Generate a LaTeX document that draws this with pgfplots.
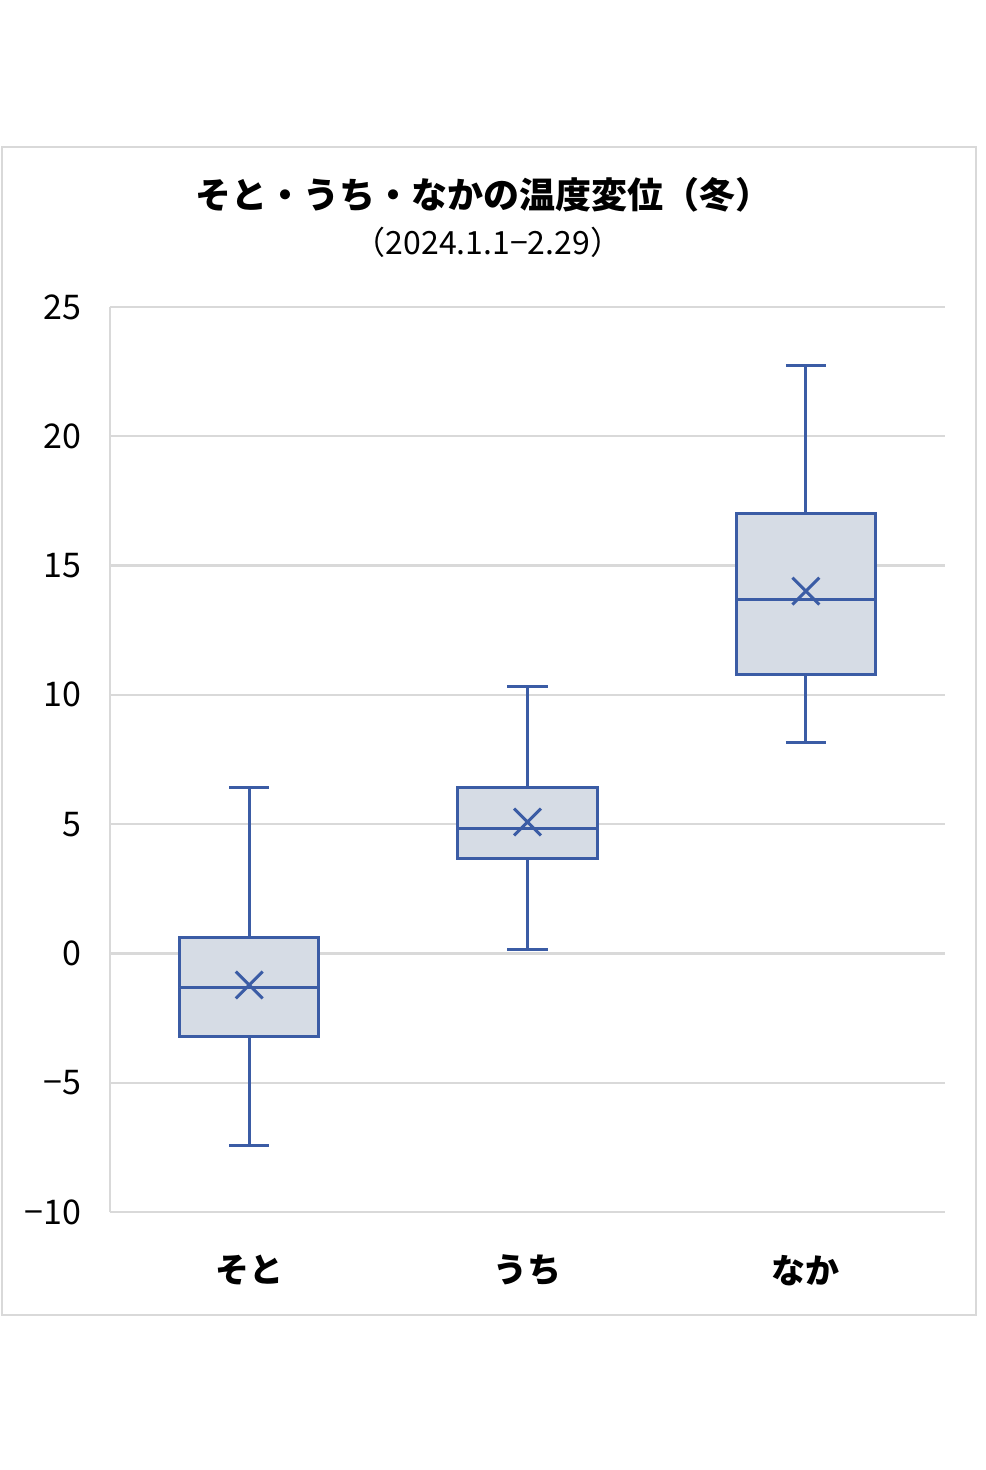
\documentclass[border=0pt]{standalone}
\usepackage{fontspec}
\setmainfont{Noto Sans CJK JP}
\usepackage{pgfplots}
\pgfplotsset{compat=1.18}
\usepgfplotslibrary{statistics}

\definecolor{gridgray}{HTML}{D9D9D9}
\definecolor{boxline}{HTML}{3B5CA5}
\definecolor{boxfill}{HTML}{D6DCE5}

\begin{document}
\begin{tikzpicture}
  % page: 1px = 0.5pt, origin at the top left
  \path (0,0) rectangle (492.5pt,-735pt);
  \draw[gridgray, line width=1.2pt] (1pt,-73.5pt) rectangle (488pt,-657.5pt);
  \node[font=\fontsize{18}{20}\selectfont\bfseries] at (241.5pt,-97.5pt) {そと・うち・なかの温度変位（冬）};
  \node[font=\fontsize{16}{18}\selectfont] at (244pt,-121pt) {（2024.1.1−2.29）};

  \begin{axis}[
    at={(55pt,-606pt)}, anchor=south west,
    scale only axis, width=417.5pt, height=452.5pt,
    xmin=0.5, xmax=3.5, ymin=-10, ymax=25,
    xtick={1,2,3}, xticklabels={そと,うち,なか},
    ytick={-10,-5,0,5,10,15,20,25},
    yticklabels={−10,−5,0,5,10,15,20,25},
    major tick length=0pt,
    ymajorgrids,
    grid style={gridgray, line width=1.2pt},
    axis x line*=bottom, axis y line*=left,
    axis line style={gridgray, line width=1.2pt},
    xticklabel style={font=\fontsize{17}{19}\selectfont\bfseries, yshift=-18pt},
    yticklabel style={font=\fontsize{17}{19}\selectfont, xshift=-11pt},
    boxplot/draw direction=y,
    boxplot/box extend=0.5,
    boxplot/whisker extend=0.144,
  ]
    \addplot[boxplot prepared={draw position=1, lower whisker=-7.41, lower quartile=-3.23,
      median=-1.30, upper quartile=0.63, upper whisker=6.40},
      draw=boxline, fill=boxfill, line width=1.5pt] coordinates {};
    \addplot[boxplot prepared={draw position=2, lower whisker=0.17, lower quartile=3.69,
      median=4.85, upper quartile=6.40, upper whisker=10.34},
      draw=boxline, fill=boxfill, line width=1.5pt] coordinates {};
    \addplot[boxplot prepared={draw position=3, lower whisker=8.17, lower quartile=10.80,
      median=13.70, upper quartile=17.03, upper whisker=22.75},
      draw=boxline, fill=boxfill, line width=1.5pt] coordinates {};
    % means
    \addplot[only marks, mark=x, mark size=9.5pt, mark options={boxline, line width=1.5pt}]
      coordinates {(1,-1.22) (2,5.08) (3,14.01)};
  \end{axis}
\end{tikzpicture}
\end{document}
